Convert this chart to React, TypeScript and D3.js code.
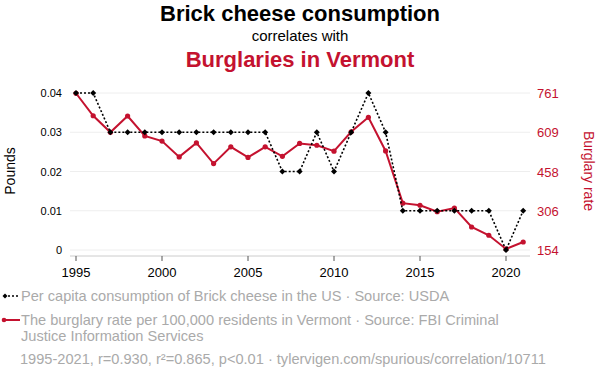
import React from "react";
import * as d3 from "d3";

const years = d3.range(1995, 2022);
const cheese = [0.04, 0.04, 0.03, 0.03, 0.03, 0.03, 0.03, 0.03, 0.03, 0.03, 0.03, 0.03, 0.02, 0.02, 0.03, 0.02, 0.03, 0.04, 0.03, 0.01, 0.01, 0.01, 0.01, 0.01, 0.01, 0.0, 0.01];
const burglary = [760, 673, 609, 672, 595, 575, 514, 568, 488, 553, 512, 553, 516, 566, 559, 536, 611, 667, 537, 335, 327, 302, 316, 243, 211, 158, 185];
const leftTicks = [0, 0.01, 0.02, 0.03, 0.04];
const rightTicks = [154, 305.75, 457.5, 609.25, 761];
const xTicks = [1995, 2000, 2005, 2010, 2015, 2020];

const RED = "#c4122f";
const FONT = "'Liberation Sans', Arial, Helvetica, sans-serif";

export default function App() {
  const W = 600, H = 376;
  const x = d3.scaleLinear().domain([1995, 2021]).range([76, 523.2]);
  const yL = d3.scaleLinear().domain([0, 0.04]).range([250, 93]);
  const yR = d3.scaleLinear().domain([154, 761]).range([250, 93]);
  const lineL = d3.line<number>().x((_, i) => x(years[i])).y((d) => yL(d));
  const lineR = d3.line<number>().x((_, i) => x(years[i])).y((d) => yR(d));
  const diamond = (cx: number, cy: number, s = 3) =>
    `M${cx},${cy - s}L${cx + s},${cy}L${cx},${cy + s}L${cx - s},${cy}Z`;

  return (
    <svg width={W} height={H} style={{ position: "absolute", left: 0, top: 0, fontFamily: FONT }}>
      <rect width={W} height={H} fill="#fff" />
      <text x={300} y={21} textAnchor="middle" fontSize={22} fontWeight="bold" fill="#000">Brick cheese consumption</text>
      <text x={300} y={41} textAnchor="middle" fontSize={15} fill="#000">correlates with</text>
      <text x={300} y={67} textAnchor="middle" fontSize={22} fontWeight="bold" fill={RED}>Burglaries in Vermont</text>

      {leftTicks.map((t) => (
        <line key={"g" + t} x1={70} x2={530} y1={yL(t)} y2={yL(t)} stroke="#eeeeee" strokeWidth={1} />
      ))}
      {leftTicks.map((t) => (
        <text key={"l" + t} x={62} y={yL(t) + 4} textAnchor="end" fontSize={11} fill="#000">{t === 0 ? "0" : t.toFixed(2)}</text>
      ))}
      {rightTicks.map((t) => (
        <text key={"r" + t} x={537} y={yR(t) + 5} textAnchor="start" fontSize={13} fill={RED}>{Math.round(t)}</text>
      ))}
      <line x1={70} x2={530} y1={256} y2={256} stroke="#cccccc" strokeWidth={1} />
      {xTicks.map((t) => (
        <g key={"x" + t}>
          <line x1={x(t)} x2={x(t)} y1={256} y2={261} stroke="#555" strokeWidth={1} />
          <text x={x(t)} y={277} textAnchor="middle" fontSize={13} fill="#000">{t}</text>
        </g>
      ))}
      <text transform="translate(15,171) rotate(-90)" textAnchor="middle" fontSize={14} fill="#000">Pounds</text>
      <text transform="translate(584,171) rotate(90)" textAnchor="middle" fontSize={14} fill={RED}>Burglary rate</text>

      <path d={lineR(burglary) || ""} fill="none" stroke={RED} strokeWidth={2} />
      {burglary.map((d, i) => (
        <circle key={"c" + i} cx={x(years[i])} cy={yR(d)} r={2.6} fill={RED} />
      ))}
      <path d={lineL(cheese) || ""} fill="none" stroke="#000" strokeWidth={1.6} strokeDasharray="2,2" />
      {cheese.map((d, i) => (
        <path key={"d" + i} d={diamond(x(years[i]), yL(d))} fill="#000" />
      ))}

      <line x1={4} x2={20} y1={296} y2={296} stroke="#000" strokeWidth={1.6} strokeDasharray="2,2" />
      <path d={diamond(5, 296, 2.5)} fill="#000" />
      <text x={21} y={301} fontSize={14.6} fill="#aaaaaa">Per capita consumption of Brick cheese in the US · Source: USDA</text>
      <line x1={4} x2={20} y1={320} y2={320} stroke={RED} strokeWidth={2} />
      <circle cx={4} cy={320} r={2.3} fill={RED} />
      <text x={21} y={325} fontSize={14.6} fill="#aaaaaa">The burglary rate per 100,000 residents in Vermont · Source: FBI Criminal</text>
      <text x={21} y={341} fontSize={14.6} fill="#aaaaaa">Justice Information Services</text>
      <text x={20} y={364} fontSize={14.6} fill="#aaaaaa">1995-2021, r=0.930, r²=0.865, p&lt;0.01 · tylervigen.com/spurious/correlation/10711</text>
    </svg>
  );
}
